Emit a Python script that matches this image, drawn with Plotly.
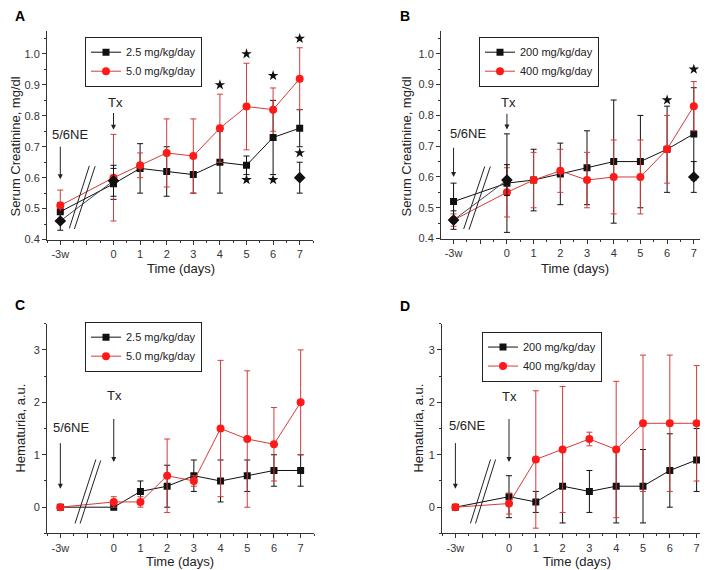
import plotly.graph_objects as go

# ---------------- data ----------------
x_pos = [-2, 0, 1, 2, 3, 4, 5, 6, 7]
x_tick_vals = [-2, -1, 0, 1, 2, 3, 4, 5, 6, 7]
x_tick_text = ["-3w", "", "0", "1", "2", "3", "4", "5", "6", "7"]

# Panel A: serum creatinine, low / high dose
a_names = ["2.5 mg/kg/day", "5.0 mg/kg/day"]
a_low = [0.49, 0.58, 0.63, 0.62, 0.61, 0.65, 0.64, 0.73, 0.76]
a_low_err = [0.03, 0.05, 0.08, 0.08, 0.06, 0.10, 0.03, 0.12, 0.06]
a_high = [0.51, 0.60, 0.64, 0.68, 0.67, 0.76, 0.83, 0.82, 0.92]
a_high_err = [0.05, 0.14, 0.04, 0.11, 0.12, 0.11, 0.14, 0.07, 0.10]
ctrl_x = [-2, 0, 7]
a_ctrl = [0.46, 0.59, 0.60]
a_ctrl_err = [0.03, 0.05, 0.05]
a_star_x = [4, 5, 6, 7, 5, 6, 7]
a_star_y = [0.90, 1.00, 0.93, 1.05, 0.593, 0.593, 0.68]

# Panel B
b_names = ["200 mg/kg/day", "400 mg/kg/day"]
b_low = [0.52, 0.58, 0.59, 0.61, 0.63, 0.65, 0.65, 0.69, 0.74]
b_low_err = [0.06, 0.16, 0.10, 0.10, 0.12, 0.20, 0.15, 0.14, 0.15]
b_high = [0.46, 0.55, 0.59, 0.62, 0.59, 0.60, 0.60, 0.69, 0.83]
b_high_err = [0.02, 0.08, 0.09, 0.07, 0.09, 0.12, 0.12, 0.11, 0.08]
b_ctrl = [0.46, 0.59, 0.60]
b_ctrl_err = [0.03, 0.05, 0.05]
b_star_x = [6, 7]
b_star_y = [0.85, 0.95]

# Panel C: hematuria
c_names = ["2.5 mg/kg/day", "5.0 mg/kg/day"]
c_low = [0, 0, 0.3, 0.4, 0.6, 0.5, 0.6, 0.7, 0.7]
c_low_err = [0, 0, 0.2, 0.4, 0.3, 0.4, 0.3, 0.3, 0.3]
c_high = [0, 0.1, 0.1, 0.6, 0.5, 1.5, 1.3, 1.2, 2.0]
c_high_err = [0, 0.1, 0.1, 0.7, 0.1, 1.3, 1.3, 0.7, 1.0]

# Panel D
d_names = ["200 mg/kg/day", "400 mg/kg/day"]
d_low = [0, 0.2, 0.1, 0.4, 0.3, 0.4, 0.4, 0.7, 0.9]
d_low_err = [0, 0.4, 0.2, 0.7, 0.4, 0.7, 0.7, 0.7, 0.6]
d_high = [0, 0.07, 0.91, 1.1, 1.3, 1.1, 1.6, 1.6, 1.6]
d_high_err = [0, 0.2, 1.31, 1.2, 0.13, 1.3, 1.3, 1.3, 1.1]

# ---------------- style ----------------
W, H = 708, 570
NARROW = "Liberation Sans Narrow, Arial Narrow, Liberation Sans, Arial"
REG = "Liberation Sans, Arial"
BLACK = "#111111"
RED = "#ff1a1a"
RED_LINE = "#d63a3a"
AX = "#333333"

fig = go.Figure()


def px_dom(a, b, total, flip=False):
    if flip:
        return [1 - b / total, 1 - a / total]
    return [a / total, b / total]


panels = [
    dict(key="", low=a_low, le=a_low_err, high=a_high, he=a_high_err, names=a_names,
         ctrl=a_ctrl, ce=a_ctrl_err, sx=a_star_x, sy=a_star_y,
         xd=(39, 305), yd=(23, 234), xr=[-2.5, 7.5], yr=[0.4, 1.075], dt=0.1, fmt=".1f",
         font=NARROW, ytitle="Serum Creatinine, mg/dl", ytx=8, yty=140, xtx=173, xty=263,
         leg=(77, 29), lab="A", labpos=(12, 8),
         brk=[(-1.66, 0.436, -0.91, 0.638), (-1.47, 0.434, -0.69, 0.637)],
         arr=[(-2, 0.705, 0.595), (0, 0.814, 0.755)],
         txt=[("5/6NE", -1.64, 0.741), ("Tx", 0.06, 0.843)]),
    dict(key="2", low=b_low, le=b_low_err, high=b_high, he=b_high_err, names=b_names,
         ctrl=b_ctrl, ce=b_ctrl_err, sx=b_star_x, sy=b_star_y,
         xd=(433, 697), yd=(23, 233), xr=[-2.47, 7.42], yr=[0.4, 1.075], dt=0.1, fmt=".1f",
         font=NARROW, ytitle="Serum Creatinine, mg/dl", ytx=399, yty=140, xtx=567, xty=263,
         leg=(471, 29), lab="B", labpos=(397, 8),
         brk=[(-1.62, 0.431, -0.83, 0.634), (-1.42, 0.429, -0.62, 0.634)],
         arr=[(-2, 0.70, 0.60), (0, 0.81, 0.754)],
         txt=[("5/6NE", -1.46, 0.741), ("Tx", 0.06, 0.842)]),
    dict(key="3", low=c_low, le=c_low_err, high=c_high, he=c_high_err, names=c_names,
         ctrl=None, sx=None,
         xd=(39, 306), yd=(319, 531), xr=[-2.5, 7.5], yr=[-0.5, 3.5], dt=1, fmt="d",
         font=REG, ytitle="Hematuria, a.u.", ytx=13, yty=425, xtx=172, xty=559,
         leg=(77, 317), lab="C", labpos=(12, 300),
         brk=[(-1.45, -0.31, -0.67, 0.91), (-1.26, -0.31, -0.49, 0.89)],
         arr=[(-2, 1.25, 0.35), (0, 1.71, 0.86)],
         txt=[("5/6NE", -1.59, 1.52), ("Tx", 0.03, 2.13)]),
    dict(key="4", low=d_low, le=d_low_err, high=d_high, he=d_high_err, names=d_names,
         ctrl=None, sx=None,
         xd=(434, 702), yd=(319, 531), xr=[-2.5, 7.5], yr=[-0.5, 3.5], dt=1, fmt="d",
         font=REG, ytitle="Hematuria, a.u.", ytx=411, yty=425, xtx=569, xty=559,
         leg=(474, 327), lab="D", labpos=(397, 301),
         brk=[(-1.44, -0.31, -0.69, 0.91), (-1.25, -0.31, -0.50, 0.91)],
         arr=[(-2, 1.25, 0.35), (0, 1.71, 0.86)],
         txt=[("5/6NE", -1.55, 1.55), ("Tx", 0.02, 2.12)]),
]

layout = dict(width=W, height=H, margin=dict(l=0, r=0, t=0, b=0),
              paper_bgcolor="white", plot_bgcolor="white", showlegend=True)
annotations = []
shapes = []

for i, p in enumerate(panels):
    k = p["key"]
    xa, ya = "x" + k, "y" + k
    legname = "legend" + k
    # black low-dose series
    fig.add_trace(go.Scatter(
        x=x_pos, y=p["low"], name=p["names"][0], mode="lines+markers",
        xaxis=xa, yaxis=ya, legend=legname,
        line=dict(color=BLACK, width=1),
        marker=dict(symbol="square", size=7, color=BLACK),
        error_y=dict(type="data", array=p["le"], color=BLACK, thickness=1, width=3)))
    # red high-dose series
    fig.add_trace(go.Scatter(
        x=x_pos, y=p["high"], name=p["names"][1], mode="lines+markers",
        xaxis=xa, yaxis=ya, legend=legname,
        line=dict(color=RED_LINE, width=1),
        marker=dict(symbol="circle", size=8, color=RED),
        error_y=dict(type="data", array=p["he"], color=RED_LINE, thickness=1, width=3)))
    if p["ctrl"] is not None:
        fig.add_trace(go.Scatter(
            x=ctrl_x[:2], y=p["ctrl"][:2], mode="lines", showlegend=False,
            xaxis=xa, yaxis=ya, line=dict(color="#444444", width=1)))
        fig.add_trace(go.Scatter(
            x=ctrl_x, y=p["ctrl"], mode="markers", showlegend=False,
            xaxis=xa, yaxis=ya,
            marker=dict(symbol="diamond", size=9, color=BLACK),
            error_y=dict(type="data", array=p["ce"], color=BLACK, thickness=1, width=3)))
    if p["sx"] is not None:
        fig.add_trace(go.Scatter(
            x=p["sx"], y=p["sy"], mode="markers", showlegend=False,
            xaxis=xa, yaxis=ya,
            marker=dict(symbol="star", size=8, color=BLACK)))

    axfont = dict(family=p["font"], size=11, color=AX)
    layout["xaxis" + k] = dict(
        domain=px_dom(*p["xd"], W), range=p["xr"], anchor=ya,
        tickmode="array", tickvals=x_tick_vals, ticktext=x_tick_text,
        ticks="outside", ticklen=4, tickcolor=AX, showline=True, linecolor=AX,
        linewidth=1, showgrid=False, zeroline=False, tickfont=axfont,
        minor=dict(tickmode="linear", tick0=0, dtick=0.5, ticks="outside",
                   ticklen=2, tickcolor=AX, showgrid=False),
        fixedrange=True)
    layout["yaxis" + k] = dict(
        domain=px_dom(*p["yd"], H, flip=True), range=p["yr"], anchor=xa,
        tickmode="linear", tick0=0, dtick=p["dt"], tickformat=p["fmt"],
        ticks="outside", ticklen=4, tickcolor=AX, showline=True, linecolor=AX,
        linewidth=1, showgrid=False, zeroline=False, tickfont=axfont,
        minor=dict(tickmode="linear", tick0=0, dtick=p["dt"] / 2, ticks="outside",
                   ticklen=2, tickcolor=AX, showgrid=False),
        fixedrange=True)
    layout[legname] = dict(
        x=p["leg"][0] / W, y=1 - p["leg"][1] / H, xanchor="left", yanchor="top",
        xref="paper", yref="paper", bgcolor="white", bordercolor="#222222",
        borderwidth=1, font=dict(family=p["font"], size=11, color="#222222"),
        tracegroupgap=0, itemwidth=30, traceorder="normal")

    tfont = dict(family=p["font"], size=13, color="#222222")
    annotations.append(dict(text=p["ytitle"], x=p["ytx"] / W, y=1 - p["yty"] / H,
                            xref="paper", yref="paper", showarrow=False, textangle=-90,
                            font=tfont, xanchor="center", yanchor="middle"))
    annotations.append(dict(text="Time (days)", x=p["xtx"] / W, y=1 - p["xty"] / H,
                            xref="paper", yref="paper", showarrow=False,
                            font=tfont, xanchor="center", yanchor="middle"))
    annotations.append(dict(text="<b>%s</b>" % p["lab"], x=p["labpos"][0] / W,
                            y=1 - p["labpos"][1] / H, xref="paper", yref="paper",
                            showarrow=False, xanchor="center", yanchor="middle",
                            font=dict(family="Liberation Sans, Arial", size=14, color="black")))
    for (tx, ty0, ty1) in p["arr"]:
        annotations.append(dict(text="", x=tx, y=ty1, ax=tx, ay=ty0, xref=xa, yref=ya,
                                axref=xa, ayref=ya, showarrow=True, arrowhead=2,
                                arrowsize=1, arrowwidth=1, arrowcolor="#222222",
                                standoff=0, startstandoff=0))
    for (t, tx, ty) in p["txt"]:
        annotations.append(dict(text=t, x=tx, y=ty, xref=xa, yref=ya, showarrow=False,
                                font=tfont, xanchor="center", yanchor="middle"))
    for (bx0, by0, bx1, by1) in p["brk"]:
        shapes.append(dict(type="line", x0=bx0, y0=by0, x1=bx1, y1=by1, xref=xa, yref=ya,
                           line=dict(color="#222222", width=1)))

layout["annotations"] = annotations
layout["shapes"] = shapes
fig.update_layout(**layout)
fig.write_html("out.html")
